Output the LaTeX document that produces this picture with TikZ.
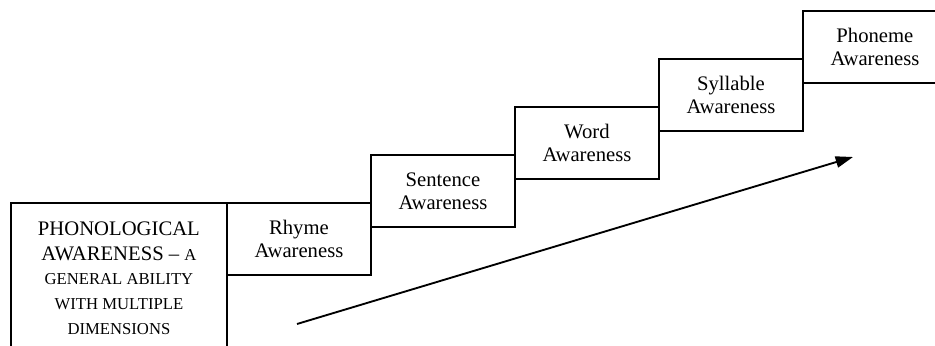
\documentclass[tikz,border=0pt]{standalone}
\usepackage{fontspec}
\setmainfont{Liberation Serif}
\usetikzlibrary{arrows.meta,positioning}
\newcommand{\capsmall}[1]{{\fontsize{12.5}{18.5}\selectfont #1}}
\tikzset{
  stairbox/.style={draw=black,line width=1.4pt,minimum width=108pt,minimum height=54pt,
    inner sep=0pt,align=center,anchor=south west,font=\fontsize{15.5}{17.5}\selectfont},
  basebox/.style={draw=black,line width=1.4pt,minimum width=162pt,minimum height=121.5pt,
    inner sep=0pt,anchor=south west},
  basetext/.style={align=center,inner sep=0pt,anchor=north,font=\fontsize{15.5}{18.5}\selectfont},
  risearrow/.style={-{Triangle[length=13pt,width=8.5pt]},line width=1.4pt}
}
\begin{document}
\begin{tikzpicture}[x=0.75pt,y=0.75pt]
  \path[use as bounding box] (0,0) rectangle (935,346);

  \node[basebox] (phon) at (10,-20) {};
  \node[basetext] (phontext) at ([yshift=-14.5pt]phon.north)
    {PHONOLOGICAL\\AWARENESS -- \capsmall{A}\\\capsmall{GENERAL ABILITY}\\
     \capsmall{WITH MULTIPLE}\\\capsmall{DIMENSIONS}};

  \node[stairbox] (rhyme) at (226,70) {Rhyme\\Awareness};
  \node[stairbox] (sentence) at (370,118) {Sentence\\Awareness};
  \node[stairbox] (word) at (514,166) {Word\\Awareness};
  \node[stairbox] (syllable) at (658,214) {Syllable\\Awareness};
  \node[stairbox] (phoneme) at (802,262) {Phoneme\\Awareness};

  \coordinate (risestart) at (297,22);
  \coordinate (riseend) at (853,189);
  \draw[risearrow] (risestart) -- (riseend);
\end{tikzpicture}
\end{document}
